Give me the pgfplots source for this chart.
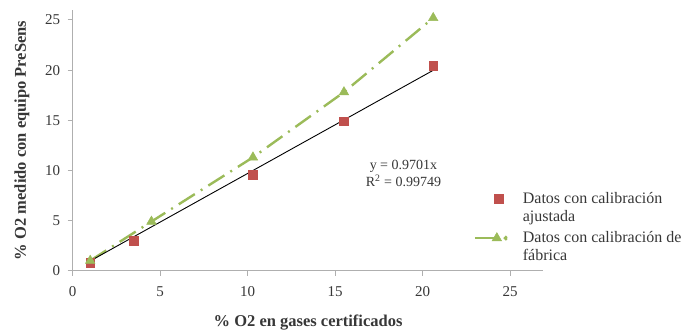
\documentclass[border=0pt]{standalone}
\usepackage{pgfplots}
\pgfplotsset{compat=1.18}
\usepackage{fontspec}
\setmainfont{Liberation Serif}
\definecolor{exred}{RGB}{192,80,77}
\definecolor{exgreen}{RGB}{155,187,89}
\definecolor{axgray}{RGB}{175,175,175}
\definecolor{txt}{RGB}{55,55,55}
\pgfplotsset{
  redleg/.style={legend image code/.code={\path[draw=none,fill=none] (0pt,-9pt) rectangle (46pt,9pt);
    \draw[##1] plot coordinates {(24pt,9pt)};}},
  greenleg/.style={legend image code/.code={\path[draw=none,fill=none] (0pt,-9pt) rectangle (46pt,9pt);
    \draw[##1,solid,mark=none] (0pt,9pt) -- (20pt,9pt);
    \draw[##1] plot coordinates {(22pt,9pt)};
    \fill[exgreen] (31pt,9pt) circle (0.9pt);}},
}
\begin{document}
\begin{tikzpicture}
\begin{axis}[
  anchor=origin, at={(0,0)},
  x=17.5pt, y=10.03pt,
  xmin=0, xmax=26.9, ymin=0, ymax=26,
  axis x line*=bottom, axis y line*=left,
  axis line style={axgray, line width=0.9pt, -},
  xtick={0,5,10,15,20,25}, ytick={0,5,10,15,20,25},
  tick align=outside, major tick length=5pt,
  tick style={axgray, line width=0.9pt},
  /pgf/number format/assume math mode=true,
  tick label style={font=\fontsize{15}{17}\selectfont, text=txt},
  xticklabel style={yshift=-7pt},
  yticklabel style={xshift=-4pt},
  every axis y label/.style={at={(axis description cs:-0.108,0.5)},rotate=90,anchor=center},
  every axis x label/.style={at={(axis description cs:0.5,-0.197)},anchor=center},
  xlabel={\% O2 en gases certificados},
  ylabel={\% O2 medido con equipo PreSens},
  label style={font=\fontsize{16.5}{18}\selectfont\bfseries, text=txt},
  legend style={at={(axis cs:22.9,8.05)}, anchor=north west, draw=none, fill=none,
    font=\fontsize{16}{18}\selectfont, nodes={align=left, text=txt}, row sep=5pt,
    inner sep=0pt},
  legend cell align=left,
  clip=false,
]
\addplot[only marks, mark=square*, mark size=4.4pt, color=exred, redleg]
  coordinates {(1,0.8) (3.5,3.0) (10.3,9.6) (15.5,14.9) (20.6,20.4)};
\addlegendentry{Datos con calibración\\ajustada}
\addplot[color=exgreen, line width=2.4pt, dash pattern=on 19pt off 7pt on 2pt off 7pt,
  mark=triangle*, mark size=5.5pt, mark options={solid, line width=0.5pt}, greenleg]
  coordinates {(1,1.0) (4.5,4.9) (10.3,11.3) (15.5,17.8) (20.6,25.2)};
\addlegendentry{Datos con calibración de\\fábrica}
\addplot[black, line width=0.9pt, forget plot] coordinates {(1,0.97) (20.6,19.98)};
\node[align=center, font=\fontsize{14}{17}\selectfont, text=txt, inner sep=0pt]
  at (axis cs:18.9,9.7) {y = 0.9701x\\R\textsuperscript{2} = 0.99749};
\end{axis}
\path[use as bounding box] (-72.7pt,270.7pt) rectangle (614.3pt,-61.3pt);
\end{tikzpicture}
\end{document}
